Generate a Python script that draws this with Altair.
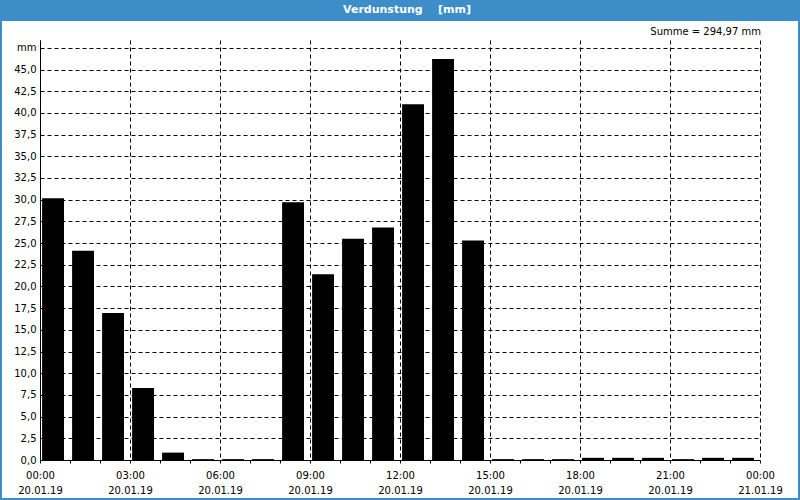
import altair as alt
import pandas as pd

# Data
hours = list(range(24))
values = [30.15, 24.1, 16.95, 8.3, 0.85, 0.1, 0.1, 0.1,
          29.7, 21.4, 25.5, 26.8, 41.0, 46.2, 25.3, 0.1,
          0.1, 0.1, 0.25, 0.25, 0.25, 0.1, 0.25, 0.25]
y_ticks = [0, 2.5, 5, 7.5, 10, 12.5, 15, 17.5, 20, 22.5, 25, 27.5, 30,
           32.5, 35, 37.5, 40, 42.5, 45, 47.5]
x_ticks = list(range(25))
title_text = "Verdunstung\u00a0\u00a0\u00a0\u00a0[mm]"
sum_text = "Summe = 294,97\u00a0mm"

FONT = "DejaVu Sans"
BLUE = "#3d8ec8"

df = pd.DataFrame({"hour": hours, "value": values})
one = pd.DataFrame({"a": [0]})

bg = alt.Chart(one).mark_rect(color="white").encode(
    x=alt.value(-38), x2=alt.value(758), y=alt.value(-19), y2=alt.value(458)
)

bars = alt.Chart(df).transform_calculate(
    start="datum.hour + 0.07", end="datum.hour + 0.8"
).mark_rect(color="black").encode(
    x=alt.X("start:Q",
            scale=alt.Scale(domain=[0, 24], nice=False, zero=False),
            axis=alt.Axis(
                values=x_ticks, title=None, grid=True,
                gridColor="black", gridDash=[4, 3], gridWidth=1,
                gridOpacity=alt.ConditionalAxisNumber(
                    condition={"test": "datum.value % 3 == 0", "value": 1}, value=0),
                labelExpr="datum.value % 3 == 0 ? [(datum.value == 24 ? '00' : (datum.value < 10 ? '0' : '') + datum.value) + ':00', datum.value == 24 ? '21.01.19' : '20.01.19'] : ''",
                labelFlush=False, labelOverlap=False, labelPadding=7,
                labelLineHeight=15, tickSize=3, tickColor="black",
                domainColor="black", labelColor="black", labelFont=FONT,
                labelFontSize=10, zindex=1)),
    x2="end:Q",
    y=alt.Y("value:Q",
            scale=alt.Scale(domain=[0, 48.4], nice=False),
            axis=alt.Axis(
                values=y_ticks, title=None, grid=True,
                gridColor="black", gridDash=[4, 3], gridWidth=1,
                labelExpr="datum.value == 47.5 ? 'mm' : replace(format(datum.value, '.1f'), '.', ',')",
                labelPadding=4, tickSize=0, domainColor="black",
                labelColor="black", labelFont=FONT, labelFontSize=10,
                labelOverlap=False, labelFlush=False, zindex=1)),
    y2=alt.datum(0),
)

title = alt.Chart(one).mark_text(
    text=title_text, color="white", font=FONT, fontSize=11, fontWeight="bold",
    align="center", baseline="middle"
).encode(x=alt.value(367), y=alt.value(-30))

summe = alt.Chart(one).mark_text(
    text=sum_text, color="black", font=FONT, fontSize=10,
    align="right", baseline="middle"
).encode(x=alt.value(721), y=alt.value(-8))

chart = alt.layer(bg, bars, title, summe).properties(
    width=720, height=420,
    autosize=alt.AutoSizeParams(type="none"),
    padding={"left": 40, "top": 40, "right": 40, "bottom": 40},
    background=BLUE,
).configure_view(stroke="black", strokeWidth=1)

chart.save("out.html", embed_options={"renderer": "svg", "actions": False})
